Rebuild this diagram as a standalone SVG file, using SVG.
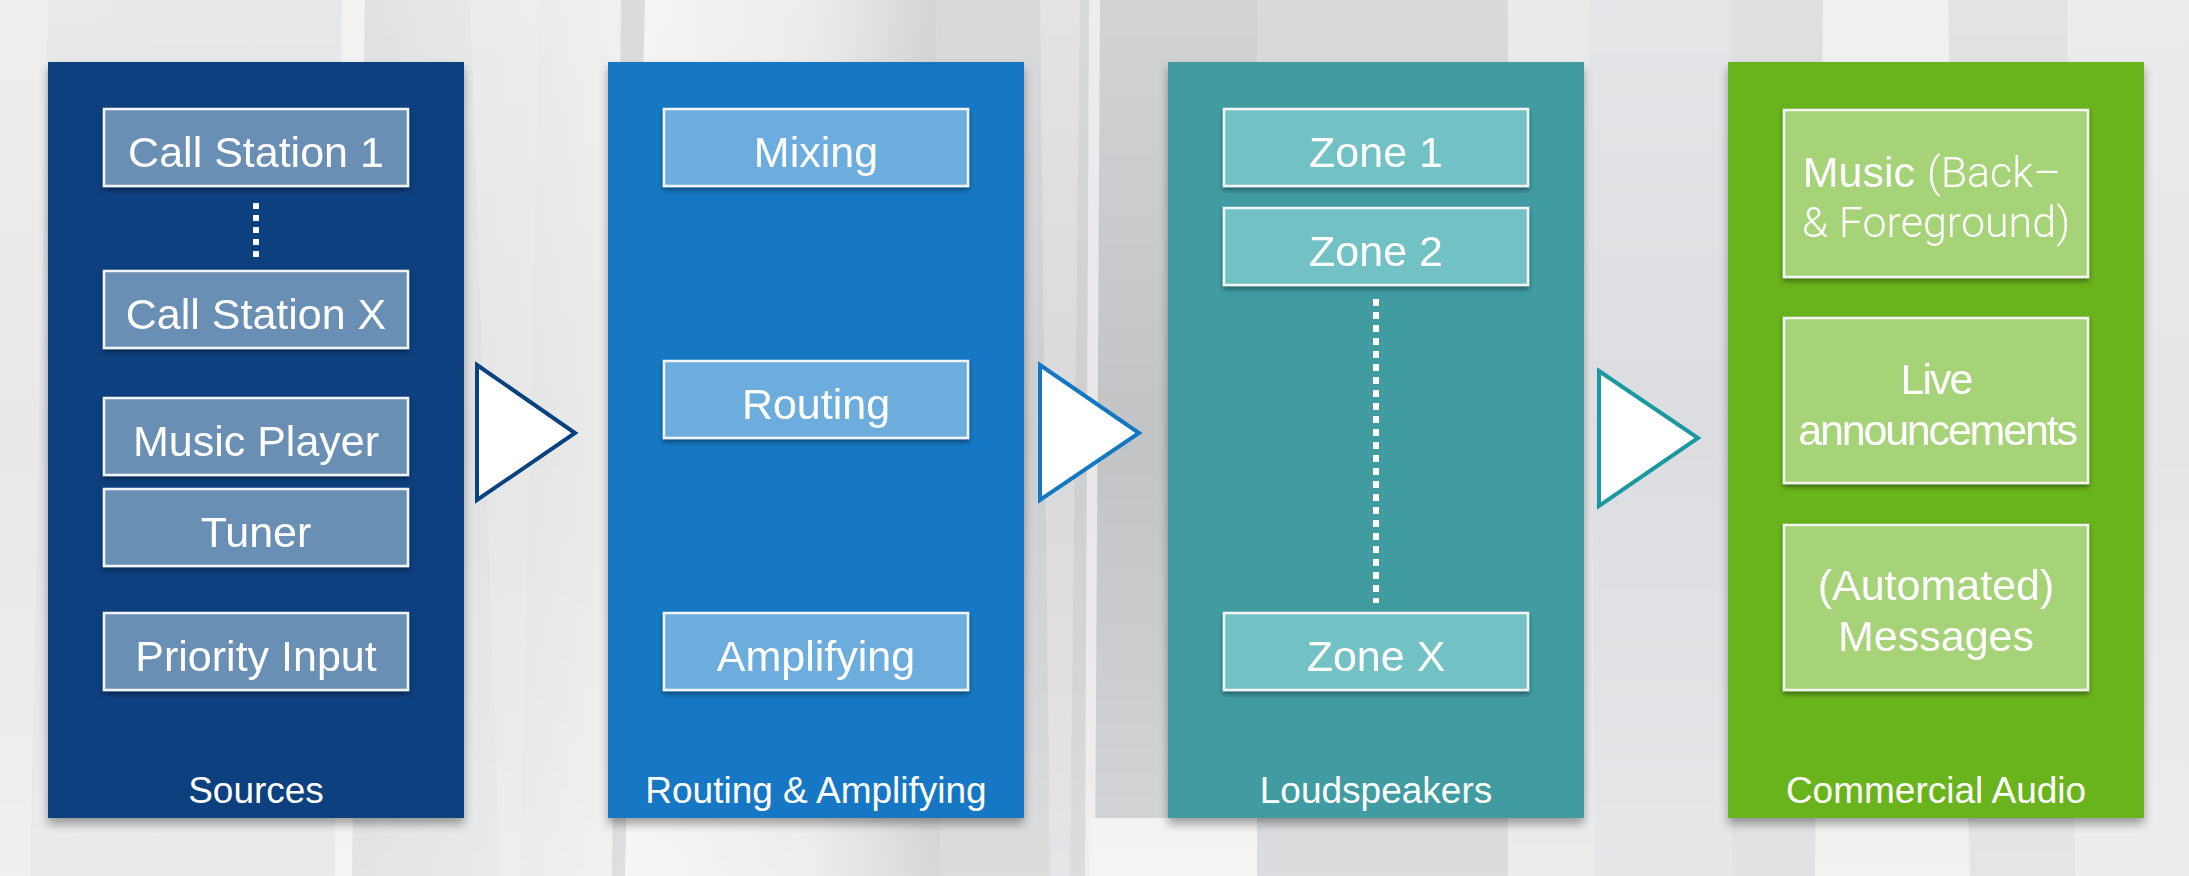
<svg xmlns="http://www.w3.org/2000/svg" width="2189" height="876" viewBox="0 0 2189 876">
  <defs>
    <linearGradient id="bgBase" x1="0" y1="0" x2="1" y2="0">
      <stop offset="0" stop-color="#e2e3e5"/>
      <stop offset="0.45" stop-color="#dcdddf"/>
      <stop offset="0.6" stop-color="#d2d3d5"/>
      <stop offset="1" stop-color="#e4e5e6"/>
    </linearGradient>
    <linearGradient id="bandA" x1="0" y1="0" x2="1" y2="0">
      <stop offset="0" stop-color="#f2f2f2"/>
      <stop offset="0.6" stop-color="#e6e6e7"/>
      <stop offset="1" stop-color="#c5c6c8"/>
    </linearGradient>
    <linearGradient id="bandB" x1="0" y1="0" x2="1" y2="0">
      <stop offset="0" stop-color="#d6d7d9"/>
      <stop offset="1" stop-color="#ececec"/>
    </linearGradient>
    <linearGradient id="vFade" x1="0" y1="0" x2="0" y2="1">
      <stop offset="0" stop-color="#ffffff" stop-opacity="0.25"/>
      <stop offset="0.5" stop-color="#ffffff" stop-opacity="0"/>
      <stop offset="1" stop-color="#ffffff" stop-opacity="0.3"/>
    </linearGradient>
    <filter id="panelShadow" x="-10%" y="-5%" width="120%" height="112%">
      <feDropShadow dx="0" dy="6" stdDeviation="5" flood-color="#000" flood-opacity="0.35"/>
    </filter>
    <filter id="boxShadow" x="-5%" y="-10%" width="110%" height="130%">
      <feDropShadow dx="0" dy="3" stdDeviation="2.5" flood-color="#000" flood-opacity="0.4"/>
    </filter>
  </defs>
  <style>
    .box { stroke: #f4f4f4; stroke-width: 2.5; }
    .b1 { fill: #6b8fb4; }
    .b2 { fill: #6dadde; }
    .b3 { fill: #72c1c4; }
    .b4 { fill: #a6d378; }
    .t { font-family: "Liberation Sans", Arial, Helvetica, sans-serif; fill: #ffffff; text-anchor: middle; }
    .bt { font-size: 43px; }
    .lab { font-size: 37px; }
    .light { font-family: Roboto, "Liberation Sans", sans-serif; font-weight: 300; }
    .dots { stroke: #ffffff; stroke-width: 6; fill: none; }
    .arrow { fill: #ffffff; stroke-width: 4; stroke-linejoin: miter; }
  </style>

  <!-- background -->
  <g id="background">
    <rect x="0" y="0" width="2189" height="876" fill="url(#bgBase)"/>
    <polygon points="0,0 48,0 30,876 0,876" fill="#e9e9ea"/>
    <polygon points="168,0 342,0 342,876 168,876" fill="#e1e2e4"/>
    <polygon points="342,0 365,0 352,876 335,876" fill="#efefef"/>
    <polygon points="365,0 621,0 621,876 352,876" fill="url(#bandB)"/>
    <polygon points="621,0 645,0 625,876 612,876" fill="#d0d1d3"/>
    <polygon points="645,0 936,0 940,876 625,876" fill="url(#bandA)"/>
    <polygon points="936,0 1089,0 1089,876 940,876" fill="#cdcecf"/>
    <polygon points="1089,0 1257,0 1257,876 1089,876" fill="#c3c4c6"/>
    <polygon points="1089,0 1100,0 1095,876 1085,876" fill="#e8e8e8"/>
    <polygon points="1090,818 1590,818 1595,876 1090,876" fill="#efefef"/>
    <polygon points="1257,0 1508,0 1508,876 1257,876" fill="#cdced0"/>
    <polygon points="1508,0 1732,0 1732,876 1508,876" fill="#e3e4e5"/>
    <polygon points="1590,0 1732,0 1732,876 1595,876" fill="#dcdde0"/>
    <polygon points="1732,0 1823,0 1815,876 1732,876" fill="#d5d6d8"/>
    <polygon points="1823,0 1948,0 1970,876 1815,876" fill="#ececed"/>
    <polygon points="1948,0 2067,0 2075,876 1970,876" fill="#d9dadc"/>
    <polygon points="2067,0 2189,0 2189,876 2075,876" fill="#e6e6e8"/>
    <polygon points="470,0 540,0 520,876 500,876" fill="#e9e9ea" opacity="0.6"/>
    <polygon points="1040,0 1080,0 1070,876 1050,876" fill="#dfe0e2" opacity="0.7"/>
    <rect x="0" y="0" width="2189" height="876" fill="url(#vFade)"/>
  </g>

  <!-- connectors (arrows) -->
  <g id="connectors">
    <polygon class="arrow" points="477,365 575,433 477,500" stroke="#0a417f"/>
    <polygon class="arrow" points="1040,365 1139,433 1040,500" stroke="#1278c4"/>
    <polygon class="arrow" points="1599,371 1698,438 1599,506" stroke="#1a9aa0"/>
  </g>

  <!-- Panel 1: Sources -->
  <g id="panel-sources">
    <rect x="48" y="62" width="416" height="756" fill="#0a417f" filter="url(#panelShadow)"/>
    <g id="node-call-station-1" filter="url(#boxShadow)">
      <rect class="box b1" x="104" y="109" width="304" height="77"/>
      <text class="t bt" x="256" y="167">Call Station 1</text>
    </g>
    <line class="dots" x1="256" y1="203" x2="256" y2="258" stroke-dasharray="6 6"/>
    <g id="node-call-station-x" filter="url(#boxShadow)">
      <rect class="box b1" x="104" y="271" width="304" height="77"/>
      <text class="t bt" x="256" y="329">Call Station X</text>
    </g>
    <g id="node-music-player" filter="url(#boxShadow)">
      <rect class="box b1" x="104" y="398" width="304" height="77"/>
      <text class="t bt" x="256" y="456">Music Player</text>
    </g>
    <g id="node-tuner" filter="url(#boxShadow)">
      <rect class="box b1" x="104" y="489" width="304" height="77"/>
      <text class="t bt" x="256" y="547">Tuner</text>
    </g>
    <g id="node-priority-input" filter="url(#boxShadow)">
      <rect class="box b1" x="104" y="613" width="304" height="77"/>
      <text class="t bt" x="256" y="671">Priority Input</text>
    </g>
    <text class="t lab" x="256" y="803">Sources</text>
  </g>

  <!-- Panel 2: Routing & Amplifying -->
  <g id="panel-routing">
    <rect x="608" y="62" width="416" height="756" fill="#1278c4" filter="url(#panelShadow)"/>
    <g id="node-mixing" filter="url(#boxShadow)">
      <rect class="box b2" x="664" y="109" width="304" height="77"/>
      <text class="t bt" x="816" y="167">Mixing</text>
    </g>
    <g id="node-routing" filter="url(#boxShadow)">
      <rect class="box b2" x="664" y="361" width="304" height="77"/>
      <text class="t bt" x="816" y="419">Routing</text>
    </g>
    <g id="node-amplifying" filter="url(#boxShadow)">
      <rect class="box b2" x="664" y="613" width="304" height="77"/>
      <text class="t bt" x="816" y="671">Amplifying</text>
    </g>
    <text class="t lab" x="816" y="803">Routing &amp; Amplifying</text>
  </g>

  <!-- Panel 3: Loudspeakers -->
  <g id="panel-loudspeakers">
    <rect x="1168" y="62" width="416" height="756" fill="#409ca1" filter="url(#panelShadow)"/>
    <g id="node-zone-1" filter="url(#boxShadow)">
      <rect class="box b3" x="1224" y="109" width="304" height="77"/>
      <text class="t bt" x="1376" y="167">Zone 1</text>
    </g>
    <g id="node-zone-2" filter="url(#boxShadow)">
      <rect class="box b3" x="1224" y="208" width="304" height="77"/>
      <text class="t bt" x="1376" y="266">Zone 2</text>
    </g>
    <line class="dots" x1="1376" y1="299" x2="1376" y2="603" stroke-dasharray="7 6"/>
    <g id="node-zone-x" filter="url(#boxShadow)">
      <rect class="box b3" x="1224" y="613" width="304" height="77"/>
      <text class="t bt" x="1376" y="671">Zone X</text>
    </g>
    <text class="t lab" x="1376" y="803">Loudspeakers</text>
  </g>

  <!-- Panel 4: Commercial Audio -->
  <g id="panel-commercial">
    <rect x="1728" y="62" width="416" height="756" fill="#69b31a" filter="url(#panelShadow)"/>
    <g id="node-music" filter="url(#boxShadow)">
      <rect class="box b4" x="1784" y="110" width="304" height="167"/>
      <text class="t bt" x="1932" y="187">Music <tspan class="light">(Back–</tspan></text>
      <text class="t bt light" x="1936" y="237">&amp; Foreground)</text>
    </g>
    <g id="node-live" filter="url(#boxShadow)">
      <rect class="box b4" x="1784" y="318" width="304" height="165"/>
      <text class="t bt" x="1936" y="394" letter-spacing="-2">Live</text>
      <text class="t bt" x="1937" y="445" letter-spacing="-2.2">announcements</text>
    </g>
    <g id="node-messages" filter="url(#boxShadow)">
      <rect class="box b4" x="1784" y="525" width="304" height="165"/>
      <text class="t bt" x="1936" y="600">(Automated)</text>
      <text class="t bt" x="1936" y="651">Messages</text>
    </g>
    <text class="t lab" x="1936" y="803">Commercial Audio</text>
  </g>
</svg>
